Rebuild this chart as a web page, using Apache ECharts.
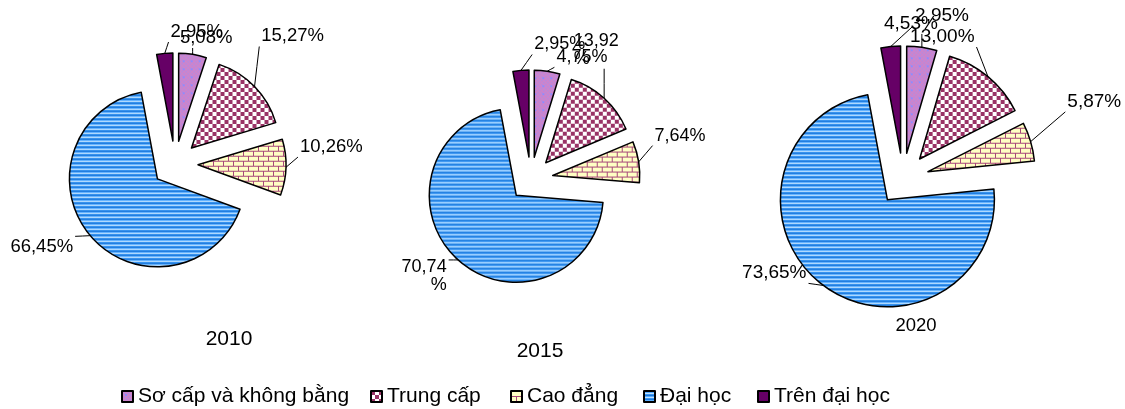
<!DOCTYPE html>
<html><head><meta charset="utf-8">
<script src="https://cdn.jsdelivr.net/npm/echarts@6/dist/echarts.min.js"></script>
<style>html,body{margin:0;padding:0;background:#fff}#c{width:1125px;height:409px}</style>
</head><body><div id="c"></div>
<script>
const categories = ['Sơ cấp và không bằng', 'Trung cấp', 'Cao đẳng', 'Đại học', 'Trên đại học'];
const years = ['2010', '2015', '2020'];
const values2010 = [5.08, 15.27, 10.26, 66.45, 2.95];
const values2015 = [4.75, 13.92, 7.64, 70.74, 2.95];
const values2020 = [4.53, 13.00, 5.87, 73.65, 2.95];

// label nudges (layout only): [dx, dy] per category
const nudge2010 = [[-25, -9], [-10, -45], [-5, -21], [0, 6], [70, -14]];
const nudge2015 = [[-3, -6], [-48, -48], [2, -25], [5, 10], [76, -18]];
const nudge2020 = [[-50, -16], [-94, -34], [18, -38], [-1, -19], [90, -23]];

const FONT = 'Liberation Sans, Arial, sans-serif';

function mk(w, h, draw) {
  const c = document.createElement('canvas');
  c.width = w; c.height = h;
  const g = c.getContext('2d');
  draw(g);
  return { image: c, repeat: 'repeat' };
}
const patSoCap = mk(8, 8, g => {
  g.fillStyle = '#cc84cc'; g.fillRect(0, 0, 8, 8);
  g.fillStyle = '#a090f0';
  g.fillRect(0, 0, 1, 1); g.fillRect(2, 2, 1, 1); g.fillRect(4, 4, 1, 1); g.fillRect(6, 6, 1, 1);
  g.fillRect(4, 0, 1, 1); g.fillRect(6, 2, 1, 1); g.fillRect(0, 4, 1, 1); g.fillRect(2, 6, 1, 1);
  g.fillStyle = '#8c8cff'; g.fillRect(3, 3, 2, 2);
});
const patTrung = mk(8, 8, g => {
  g.fillStyle = '#ffffff'; g.fillRect(0, 0, 8, 8);
  g.fillStyle = '#993366'; g.fillRect(0, 0, 4, 4); g.fillRect(4, 4, 4, 4);
});
const patCao = mk(10, 10, g => {
  g.fillStyle = '#ffffc4'; g.fillRect(0, 0, 10, 10);
  g.fillStyle = '#a8487a';
  g.fillRect(0, 0, 10, 1); g.fillRect(0, 5, 10, 1);
  g.fillRect(0, 0, 1, 5); g.fillRect(5, 5, 1, 5);
});
const patDai = mk(4, 4, g => {
  g.fillStyle = '#1a78dc'; g.fillRect(0, 0, 4, 1);
  g.fillStyle = '#5aaeff'; g.fillRect(0, 1, 4, 1);
  g.fillStyle = '#c0e2ff'; g.fillRect(0, 2, 4, 1);
  g.fillStyle = '#3c96f0'; g.fillRect(0, 3, 4, 1);
});
const fills = [patSoCap, patTrung, patCao, patDai, '#660066'];

const fmt = p => p.value.toFixed(2).replace('.', ',') + '%';

function nudgeLayout(nudge) {
  return p => {
    const n = nudge[p.dataIndex];
    const out = { dx: n[0], dy: n[1], hideOverlap: false };
    const pts = p.labelLinePoints;
    const r = p.labelRect;
    if (pts && pts.length >= 2 && r) {
      const p0 = pts[0];
      const rx0 = r.x + n[0] - 2, rx1 = r.x + r.width + n[0] + 2;
      const ry0 = r.y + n[1] - 1, ry1 = r.y + r.height + n[1] + 1;
      const ex = Math.min(Math.max(p0[0], rx0), rx1);
      const ey = Math.min(Math.max(p0[1], ry0), ry1);
      out.labelLinePoints = [
        [p0[0], p0[1]],
        [(p0[0] + ex) / 2, (p0[1] + ey) / 2],
        [ex, ey]
      ];
    }
    return out;
  };
}

function pie(vals, center, radius, offset, fontSize, nudge, wrapIdx) {
  return {
    type: 'pie',
    center: center,
    radius: radius,
    startAngle: 90,
    clockwise: true,
    selectedMode: 'multiple',
    selectedOffset: offset,
    avoidLabelOverlap: true,
    minShowLabelAngle: 0,
    animation: false,
    emphasis: { disabled: true },
    labelLayout: nudgeLayout(nudge),
    itemStyle: { borderColor: '#000', borderWidth: 1.5 },
    label: {
      show: true, position: 'outside', formatter: fmt,
      color: '#000', fontSize: fontSize, fontFamily: FONT
    },
    labelLine: { show: true, length: 8, length2: 6, lineStyle: { color: '#000', width: 1 } },
    data: categories.map((n, i) => {
      const d = { name: n, value: vals[i], selected: true, itemStyle: { color: fills[i] } };
      if (wrapIdx && wrapIdx.indexOf(i) >= 0) d.label = { width: 50, overflow: 'breakAll' };
      return d;
    })
  };
}

const legendX = [121, 370, 510, 643, 757];
const legends = categories.map((n, i) => ({
  left: legendX[i], top: 386, icon: 'rect', itemWidth: 11, itemHeight: 11,
  selectedMode: false, padding: 0,
  textStyle: { fontSize: 21, fontFamily: FONT, color: '#000' },
  data: [n]
}));

const chart = echarts.init(document.getElementById('c'), null, { renderer: 'canvas' });
chart.setOption({
  backgroundColor: '#fff',
  animation: false,
  legend: legends,
  graphic: [
    { type: 'text', x: 229, y: 339, style: { text: years[0], align: 'center', verticalAlign: 'middle', fontSize: 21, fontFamily: FONT, fill: '#000' } },
    { type: 'text', x: 540, y: 351, style: { text: years[1], align: 'center', verticalAlign: 'middle', fontSize: 21, fontFamily: FONT, fill: '#000' } },
    { type: 'text', x: 916, y: 326, style: { text: years[2], align: 'center', verticalAlign: 'middle', fontSize: 18.5, fontFamily: FONT, fill: '#000' } }
  ],
  series: [
    pie(values2010, [175, 164], 88, 23, 18.5, nudge2010),
    pie(values2015, [531, 179], 87, 22, 18, nudge2015, [1, 3]),
    pie(values2020, [903, 179], 107, 26, 19, nudge2020)
  ]
});
</script></body></html>
